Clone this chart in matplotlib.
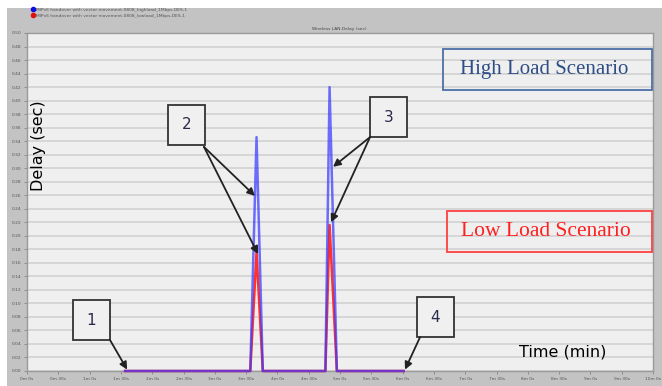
import matplotlib
matplotlib.use("Agg")
import matplotlib.pyplot as plt
from matplotlib.patches import Rectangle
from matplotlib.lines import Line2D

# ---- data ----
time_s = [94, 214, 220, 226, 286, 290, 297, 361]
high_load = [0, 0, 0.346, 0, 0, 0.420, 0, 0]
low_load = [0, 0, 0.176, 0, 0, 0.216, 0, 0]
x_ticks = list(range(0, 601, 30))
x_tick_labels = [f"{t // 60}m {t % 60}s" for t in x_ticks]
y_ticks = [i * 0.02 for i in range(26)]
y_tick_labels = [f"{v:.2f}" for v in y_ticks]
legend_labels = ["MIPv6 handover with vector movement-0808_highload_1Mbps-DES-1",
                 "MIPv6 handover with vector movement-0808_lowload_1Mbps-DES-1"]

W, H = 662, 386
fig = plt.figure(figsize=(W / 100, H / 100), dpi=100)
fig.patch.set_facecolor("white")
fig.patches.append(Rectangle((7 / W, 0), (W - 7) / W, (H - 8) / H, transform=fig.transFigure,
                             facecolor="#c3c3c3", edgecolor="none", zorder=-10))

ax = fig.add_axes([27 / W, (H - 371) / H, 626 / W, 338 / H])
ax.set_facecolor("#efefef")
ax.set_xlim(0, 600)
ax.set_ylim(0, 0.50)
ax.set_yticks(y_ticks)
ax.set_yticklabels(y_tick_labels, fontsize=3.2, color="#555555")
ax.set_xticks(x_ticks)
ax.set_xticklabels(x_tick_labels, fontsize=3.2, color="#555555")
ax.tick_params(length=2, width=0.5, color="#777777", pad=2)
ax.grid(axis="y", color="#d2d2d2", lw=1.2)
ax.set_axisbelow(True)
for s in ax.spines.values():
    s.set_color("#9a9a9a")
    s.set_linewidth(1.0)

ax.plot(time_s, low_load, color="#ff3030", lw=1.8, clip_on=False, zorder=3)
ax.plot(time_s, high_load, color="#3a3aff", lw=1.8, alpha=0.72, clip_on=False, zorder=4)

fig.text(339 / W, 1 - 29 / H, "Wireless LAN.Delay (sec)", fontsize=3.2, color="#444444",
         ha="center", va="center")

handles = [Line2D([], [], marker="o", ls="", color="#1010e0", ms=3),
           Line2D([], [], marker="o", ls="", color="#e01010", ms=3)]
fig.legend(handles, legend_labels, loc="upper left", bbox_to_anchor=(30 / W, 1 - 7 / H),
           frameon=False, fontsize=3.2, handletextpad=0.2, labelspacing=0.35,
           borderaxespad=0, borderpad=0.2, handlelength=1.0, labelcolor="#555555")

# axis labels drawn inside plot
ax.text(0.018, 0.668, "Delay (sec)", transform=ax.transAxes, rotation=90, fontsize=11.5,
        ha="center", va="center", color="black")
ax.text(0.856, 0.056, "Time (min)", transform=ax.transAxes, fontsize=11.5,
        ha="center", va="center", color="black")

# scenario boxes
ax.add_patch(Rectangle((0.6645, 0.831), 0.3335, 0.122, transform=ax.transAxes,
                       fill=False, edgecolor="#4a6fa5", lw=1.3, zorder=5))
ax.text(0.8259, 0.892, "High Load Scenario", transform=ax.transAxes, fontsize=15,
        family="Liberation Serif", color="#2e4f86", ha="center", va="center", zorder=6)
ax.add_patch(Rectangle((0.671, 0.352), 0.327, 0.121, transform=ax.transAxes,
                       fill=False, edgecolor="#ff4040", lw=1.3, zorder=5))
ax.text(0.829, 0.4127, "Low Load Scenario", transform=ax.transAxes, fontsize=15.5,
        family="Liberation Serif", color="#ff2020", ha="center", va="center", zorder=6)

# numbered boxes
boxes = [("1", 0.0735, 0.0917), ("2", 0.2252, 0.669), ("3", 0.548, 0.692), ("4", 0.623, 0.1006)]
bw, bh = 0.059, 0.118
for lab, bx, by in boxes:
    ax.add_patch(Rectangle((bx, by), bw, bh, transform=ax.transAxes, facecolor="#f0f0f0",
                           edgecolor="#333333", lw=1.3, zorder=5))
    ax.text(bx + bw / 2, by + bh / 2, lab, transform=ax.transAxes, fontsize=11,
            color="#2a2a4a", ha="center", va="center", zorder=6)

arrows = [((0.1326, 0.0917), (96, 0.002)),
          ((0.2827, 0.663), (218.5, 0.259)),
          ((0.2827, 0.663), (221.4, 0.173)),
          ((0.548, 0.692), (293.3, 0.302)),
          ((0.548, 0.692), (291.4, 0.220)),
          ((0.628, 0.1006), (362.3, 0.002))]
for tail, tip in arrows:
    ax.annotate("", xy=tip, xycoords="data", xytext=tail, textcoords="axes fraction",
                arrowprops=dict(arrowstyle="-|>", color="#222222", lw=1.3, mutation_scale=11,
                                shrinkA=0, shrinkB=0), zorder=7)

fig.savefig("out.png", dpi=100)
